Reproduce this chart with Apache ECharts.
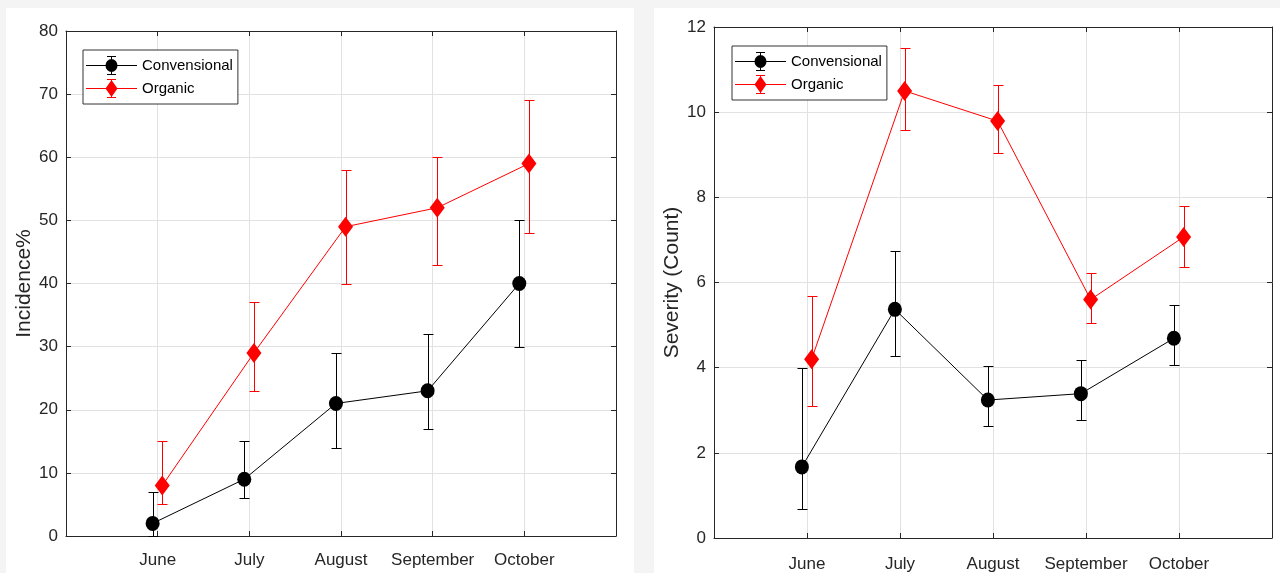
<!DOCTYPE html>
<html>
<head>
<meta charset="utf-8">
<script src="https://cdn.jsdelivr.net/npm/echarts@6/dist/echarts.min.js"></script>
<style>
html,body{margin:0;padding:0;background:#f4f4f4;}
#chart{width:1280px;height:573px;}
</style>
</head>
<body>
<div id="chart"></div>
<script>
// ---- data ----
const months = ['June', 'July', 'August', 'September', 'October'];
const seriesNames = ['Convensional', 'Organic'];

// Incidence % (left panel)
const incConv     = [2, 9, 21, 23, 40];
const incConvLow  = [0, 6, 14, 17, 30];
const incConvHigh = [7, 15, 29, 32, 50];
const incOrg      = [8, 29, 49, 52, 59];
const incOrgLow   = [5, 23, 40, 43, 48];
const incOrgHigh  = [15, 37, 58, 60, 69];

// Severity (Count) (right panel)
const sevConv     = [1.67, 5.37, 3.24, 3.39, 4.69];
const sevConvLow  = [0.69, 4.28, 2.63, 2.76, 4.06];
const sevConvHigh = [4.00, 6.73, 4.03, 4.17, 5.47];
const sevOrg      = [4.20, 10.50, 9.79, 5.60, 7.07];
const sevOrgLow   = [3.10, 9.57, 9.04, 5.04, 6.36];
const sevOrgHigh  = [5.69, 11.51, 10.64, 6.23, 7.80];

// ---- styling ----
const FONT = "'Liberation Sans', Arial, Helvetica, sans-serif";
const AX = '#262626';
const GRID = '#e2e2e2';
const BLACK = '#000000';
const RED = '#ff0000';
const OFF_CONV = -0.055, OFF_ORG = 0.05;

const chart = echarts.init(document.getElementById('chart'), null, {renderer: 'canvas'});

function pts(vals, off) { return vals.map((v, i) => [i + 1 + off, v]); }
function errs(lo, hi, off) { return lo.map((l, i) => [i + 1 + off, l, hi[i]]); }

function errRender(color) {
  return function (params, api) {
    const x = api.value(0);
    const pLo = api.coord([x, api.value(1)]);
    const pHi = api.coord([x, api.value(2)]);
    const cx = Math.round(pLo[0]) + 0.5;
    const yl = Math.round(pLo[1]) + 0.5, yh = Math.round(pHi[1]) + 0.5;
    const h = 5;
    const st = {stroke: color, lineWidth: 1};
    return {type: 'group', children: [
      {type: 'line', shape: {x1: cx, y1: yl, x2: cx, y2: yh}, style: st},
      {type: 'line', shape: {x1: cx - h, y1: yl, x2: cx + h, y2: yl}, style: st},
      {type: 'line', shape: {x1: cx - h, y1: yh, x2: cx + h, y2: yh}, style: st}
    ]};
  };
}

const lineH = 'M0 9 H51 V10 H0 Z ';
const barH = 'M25 0 H26 V19 H25 Z M21 0 H30 V1 H21 Z M21 18 H30 V19 H21 Z ';
const iconConv = 'path://' + lineH + barH + 'M19.5 9.5 A6 6.5 0 1 1 31.5 9.5 A6 6.5 0 1 1 19.5 9.5 Z';
const iconOrg = 'path://' + lineH + barH + 'M25.5 1 L31.5 9.5 L25.5 18 L19.5 9.5 Z';

function legendCfg(left, top) {
  return {
    left: left, top: top, orient: 'vertical',
    padding: [6, 5, 6, 3], itemGap: 4, itemWidth: 51, itemHeight: 19,
    backgroundColor: '#ffffff', borderColor: '#333333', borderWidth: 1, borderRadius: 0,
    selectedMode: false,
    textStyle: {fontFamily: FONT, fontSize: 15, color: '#000'},
    data: [
      {name: seriesNames[0], icon: iconConv, itemStyle: {color: BLACK, borderWidth: 0}},
      {name: seriesNames[1], icon: iconOrg, itemStyle: {color: RED, borderWidth: 0}}
    ]
  };
}

function xAxes(gi, margin) {
  return [
    {type: 'value', gridIndex: gi, min: 0, max: 6, interval: 1, position: 'bottom',
     axisLine: {show: true, onZero: false, lineStyle: {color: AX, width: 1}},
     axisTick: {show: true, inside: true, length: 5, lineStyle: {color: AX}},
     axisLabel: {margin: margin, fontFamily: FONT, fontSize: 17, color: AX,
                 formatter: v => (v >= 1 && v <= months.length) ? months[v - 1] : ''},
     splitLine: {show: true, lineStyle: {color: GRID, width: 1}}},
    {type: 'value', gridIndex: gi, min: 0, max: 6, interval: 1, position: 'top',
     axisLine: {show: true, onZero: false, lineStyle: {color: AX, width: 1}},
     axisTick: {show: true, inside: true, length: 5, lineStyle: {color: AX}},
     axisLabel: {show: false}, splitLine: {show: false}}
  ];
}

function yAxes(gi, max, interval, name, gap) {
  return [
    {type: 'value', gridIndex: gi, min: 0, max: max, interval: interval, position: 'left',
     name: name, nameLocation: 'middle', nameGap: gap,
     nameTextStyle: {fontFamily: FONT, fontSize: 21, color: AX},
     axisLine: {show: true, onZero: false, lineStyle: {color: AX, width: 1}},
     axisTick: {show: true, inside: true, length: 5, lineStyle: {color: AX}},
     axisLabel: {margin: 8, fontFamily: FONT, fontSize: 17, color: AX},
     splitLine: {show: true, lineStyle: {color: GRID, width: 1}}},
    {type: 'value', gridIndex: gi, min: 0, max: max, interval: interval, position: 'right',
     axisLine: {show: true, onZero: false, lineStyle: {color: AX, width: 1}},
     axisTick: {show: true, inside: true, length: 5, lineStyle: {color: AX}},
     axisLabel: {show: false}, splitLine: {show: false}}
  ];
}

function lineSeries(name, xi, yi, data, color, symbol, size, z) {
  return {
    name: name, type: 'line', xAxisIndex: xi, yAxisIndex: yi, data: data,
    symbol: symbol, symbolSize: size, showSymbol: true, z: z,
    lineStyle: {color: color, width: 1},
    itemStyle: {color: color, borderWidth: 0},
    emphasis: {disabled: true}, silent: true
  };
}
function errSeries(name, xi, yi, data, color, z) {
  return {
    name: name, type: 'custom', xAxisIndex: xi, yAxisIndex: yi, data: data,
    renderItem: errRender(color), encode: {x: 0, y: [1, 2]}, z: z, silent: true,
    itemStyle: {color: color}
  };
}

const option = {
  animation: false,
  backgroundColor: '#f4f4f4',
  graphic: [
    {type: 'rect', shape: {x: 6, y: 8, width: 628, height: 565}, style: {fill: '#ffffff'}, z: -100, silent: true},
    {type: 'rect', shape: {x: 654, y: 8, width: 626, height: 565}, style: {fill: '#ffffff'}, z: -100, silent: true}
  ],
  legend: [legendCfg(83, 50), legendCfg(732, 46)],
  grid: [
    {left: 66, top: 31, width: 550, height: 505, containLabel: false},
    {left: 714, top: 27, width: 558, height: 513, containLabel: false}
  ],
  xAxis: [...xAxes(0, 16), ...xAxes(1, 18)],
  yAxis: [...yAxes(0, 80, 10, 'Incidence%', 30), ...yAxes(1, 12, 2, 'Severity (Count)', 30)],
  series: [
    lineSeries(seriesNames[0], 0, 0, pts(incConv, OFF_CONV), BLACK, 'circle', [14, 15], 3),
    lineSeries(seriesNames[1], 0, 0, pts(incOrg, OFF_ORG), RED, 'diamond', [15, 20], 5),
    errSeries(seriesNames[0], 0, 0, errs(incConvLow, incConvHigh, OFF_CONV), BLACK, 2),
    errSeries(seriesNames[1], 0, 0, errs(incOrgLow, incOrgHigh, OFF_ORG), RED, 4),
    lineSeries(seriesNames[0], 2, 2, pts(sevConv, OFF_CONV), BLACK, 'circle', [14, 15], 3),
    lineSeries(seriesNames[1], 2, 2, pts(sevOrg, OFF_ORG), RED, 'diamond', [15, 20], 5),
    errSeries(seriesNames[0], 2, 2, errs(sevConvLow, sevConvHigh, OFF_CONV), BLACK, 2),
    errSeries(seriesNames[1], 2, 2, errs(sevOrgLow, sevOrgHigh, OFF_ORG), RED, 4)
  ]
};
chart.setOption(option);
</script>
</body>
</html>
